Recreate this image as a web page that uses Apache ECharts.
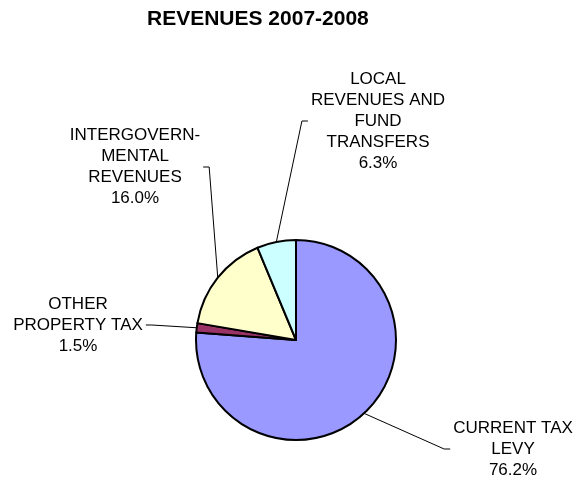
<!DOCTYPE html>
<html>
<head>
<meta charset="utf-8">
<script src="https://cdn.jsdelivr.net/npm/echarts@6/dist/echarts.min.js"></script>
<style>
  html, body { margin: 0; padding: 0; background: #fff; }
  #chart { width: 578px; height: 484px; }
</style>
</head>
<body>
<div id="chart"></div>
<script>
// slice order: clockwise from 12 o'clock
var categories = ['CURRENT TAX\nLEVY', 'OTHER\nPROPERTY TAX', 'INTERGOVERN-\nMENTAL\nREVENUES', 'LOCAL\nREVENUES AND\nFUND\nTRANSFERS'];
var shares = [76.2, 1.5, 16.0, 6.3];
var sliceColors = ['#9999FF', '#993366', '#FFFFCC', '#CCFFFF'];

// label block centres (x, y)
var labelPos = [[513, 449], [78, 325], [135, 167], [378, 121]];

var chart = echarts.init(document.getElementById('chart'));

var option = {
  animation: false,
  backgroundColor: '#fff',
  title: {
    text: 'REVENUES 2007-2008',
    left: 147,
    top: 9,
    padding: 0,
    textStyle: {
      color: '#000',
      fontFamily: 'Liberation Sans, Arial, sans-serif',
      fontWeight: 'bold',
      fontSize: 21
    }
  },
  series: [{
    type: 'pie',
    center: [296, 340],
    radius: 100,
    startAngle: 90,
    clockwise: true,
    avoidLabelOverlap: false,
    emphasis: { disabled: true },
    itemStyle: {
      borderColor: '#000',
      borderWidth: 2
    },
    label: {
      show: true,
      position: 'outside',
      color: '#000',
      fontFamily: 'Liberation Sans, Arial, sans-serif',
      fontSize: 17,
      lineHeight: 21,
      align: 'center',
      formatter: function (p) {
        return p.name + '\n' + p.value.toFixed(1) + '%';
      }
    },
    labelLine: {
      show: true,
      length: 10,
      length2: 10,
      lineStyle: { color: '#000', width: 1 }
    },
    labelLayout: function (params) {
      var pos = labelPos[params.dataIndex];
      var w = params.labelRect.width;
      var anchor = params.labelLinePoints ? params.labelLinePoints[0] : [pos[0], pos[1]];
      var onRight = pos[0] > anchor[0];
      var endX = onRight ? pos[0] - w / 2 - 3 : pos[0] + w / 2 + 3;
      var bendX = onRight ? endX - 6 : endX + 6;
      return {
        x: pos[0],
        y: pos[1],
        align: 'center',
        verticalAlign: 'middle',
        labelLinePoints: [anchor, [bendX, pos[1]], [endX, pos[1]]]
      };
    },
    data: categories.map(function (name, i) {
      return { name: name, value: shares[i], itemStyle: { color: sliceColors[i] } };
    })
  }]
};

chart.setOption(option);
</script>
</body>
</html>
